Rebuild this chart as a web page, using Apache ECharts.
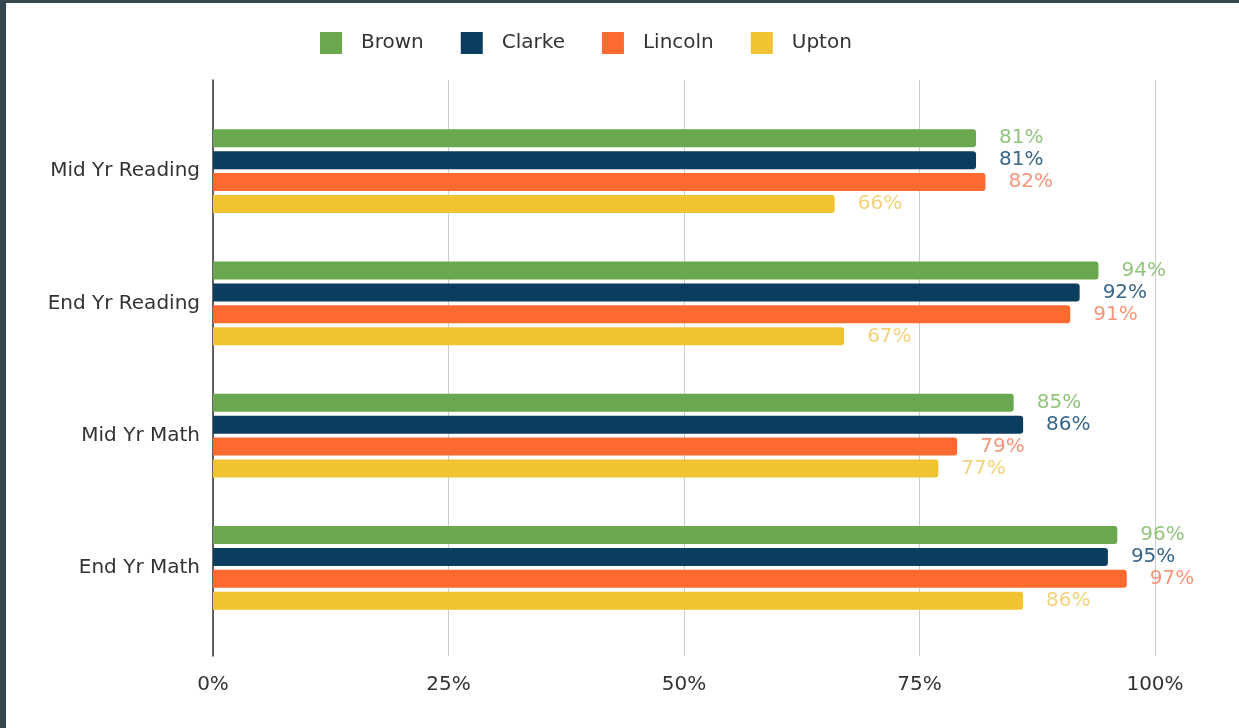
<!DOCTYPE html>
<html>
<head>
<meta charset="utf-8">
<script src="https://cdn.jsdelivr.net/npm/echarts@6/dist/echarts.min.js"></script>
<style>
  html, body { margin: 0; padding: 0; background: #37474f; width: 1239px; height: 728px; overflow: hidden; }
  #chart { position: absolute; left: 6px; top: 3px; width: 1233px; height: 725px; background: #ffffff; }
</style>
</head>
<body>
<div id="chart"></div>
<script>
const categories = ['Mid Yr Reading', 'End Yr Reading', 'Mid Yr Math', 'End Yr Math'];
const brown = [81, 94, 85, 96];
const clarke = [81, 92, 86, 95];
const lincoln = [82, 91, 79, 97];
const upton = [66, 67, 77, 86];
const tickValues = [0, 25, 50, 75, 100];

const seriesDefs = [
  { name: 'Brown', data: brown, color: '#6aa84f', label: '#93c47d' },
  { name: 'Clarke', data: clarke, color: '#0b3d5e', label: '#3a6688' },
  { name: 'Lincoln', data: lincoln, color: '#fd6a2f', label: '#f5967a' },
  { name: 'Upton', data: upton, color: '#f1c232', label: '#f2d27a' }
];

const font = 'DejaVu Sans';
const chart = echarts.init(document.getElementById('chart'));
chart.setOption({
  animation: false,
  backgroundColor: '#ffffff',
  legend: {
    left: 314, top: 29, padding: 0,
    itemWidth: 22, itemHeight: 22, itemGap: 37,
    icon: 'rect',
    textStyle: { fontFamily: font, fontSize: 20, color: '#333333', padding: [0, 0, 0, 14] },
    data: seriesDefs.map(s => s.name)
  },
  grid: [
    { left: 207, right: 84, top: 77, bottom: 72 },
    { left: 207, right: 84, top: 102, bottom: 94 }
  ],
  xAxis: [
    {
      gridIndex: 0, type: 'value', min: tickValues[0], max: tickValues[tickValues.length - 1], interval: 25,
      axisLine: { show: false }, axisTick: { show: false },
      splitLine: { show: true, lineStyle: { color: '#cccccc', width: 1 } },
      axisLabel: { formatter: '{value}%', fontFamily: font, fontSize: 20, color: '#333333', margin: 19 }
    },
    {
      gridIndex: 1, type: 'value', min: 0, max: 100, show: false,
      splitLine: { show: false }
    }
  ],
  yAxis: [
    {
      gridIndex: 0, type: 'value', min: 0, max: 1,
      axisLine: { show: true, lineStyle: { color: '#333333', width: 1.5 } },
      axisTick: { show: false }, axisLabel: { show: false }, splitLine: { show: false }
    },
    {
      gridIndex: 1, type: 'category', inverse: true, data: categories,
      axisLine: { show: false }, axisTick: { show: false },
      axisLabel: { fontFamily: font, fontSize: 20, color: '#333333', margin: 13 }
    }
  ],
  series: seriesDefs.map(s => ({
    name: s.name,
    type: 'bar',
    xAxisIndex: 1, yAxisIndex: 1,
    data: s.data,
    barWidth: 18,
    barGap: '22%',
    itemStyle: { color: s.color, borderRadius: [0, 3, 3, 0] },
    label: {
      show: true, position: 'right', distance: 23,
      formatter: p => p.value + '%',
      fontFamily: font, fontSize: 20, color: s.label
    }
  }))
});
</script>
</body>
</html>
